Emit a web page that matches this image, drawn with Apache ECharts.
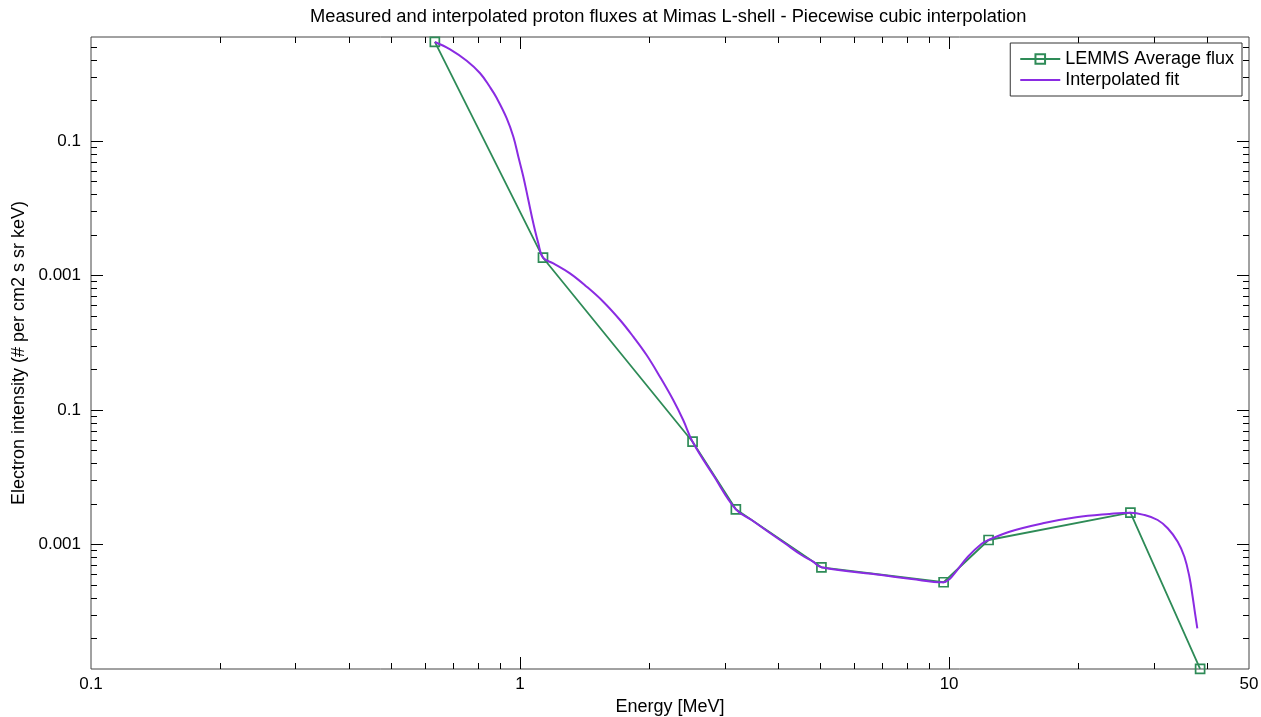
<!DOCTYPE html>
<html>
<head>
<meta charset="utf-8">
<title>Proton fluxes at Mimas L-shell</title>
<script src="https://cdn.jsdelivr.net/npm/echarts@6/dist/echarts.min.js"></script>
<style>
  html, body { margin: 0; padding: 0; background: #fff; }
  #chart { width: 1261px; height: 717px; }
</style>
</head>
<body>
<div id="chart"></div>
<script>
// LEMMS measured average flux
const energyMeasured = [0.633, 1.131, 2.524, 3.184, 5.04, 9.71, 12.36, 26.46, 38.46];
const fluxMeasured = [54.5, 1.356, 0.0581, 0.01827, 0.00677, 0.00524, 0.0108, 0.01723, 0.00119];

// Piecewise cubic fit
const energyFit = [0.633, 0.687, 0.751, 0.807, 0.8515, 0.883, 0.931, 0.9647, 0.9909, 1.0178, 1.0455, 1.0739,
  1.103, 1.131, 1.1955, 1.307, 1.430, 1.563, 1.710, 1.836, 1.972, 2.118, 2.275, 2.400, 2.524, 2.829,
  3.184, 3.464, 3.786, 4.140, 4.528, 4.818, 5.04, 6.953, 8.179, 9.71, 10.03, 10.30, 11.06, 11.89,
  12.36, 13.83, 16.54, 19.78, 23.64, 26.46, 28.52, 30.63, 32.32, 34.10, 35.35, 36.31, 36.95, 37.43, 37.89];
const fluxFit = [54.5, 48.07, 39.5, 31.9, 25.08, 20.78, 14.75, 10.76, 7.64, 5.43, 3.64, 2.444,
  1.736, 1.356, 1.232, 1.038, 0.8255, 0.6385, 0.467, 0.3508, 0.2563, 0.1769, 0.1187, 0.0843, 0.0581, 0.0323,
  0.01827, 0.01521, 0.01245, 0.01021, 0.00835, 0.00745, 0.00677, 0.005932, 0.005539, 0.00524, 0.00554, 0.00611, 0.00811, 0.01009,
  0.0108, 0.01245, 0.01437, 0.01593, 0.01686, 0.01723, 0.01657, 0.01521, 0.0132, 0.0105, 0.00811, 0.00576, 0.00409, 0.00308, 0.002382];

// Axis ranges and ticks
const xRange = [0.1, 50];
const yRange = [0.0011867, 59.33];
const xTickValues = [1, 10];
const xLabelValues = [0.1, 1, 10, 50];
const xTickLabels = ['0.1', '1', '10', '50'];
const xMinorValues = [0.2, 0.3, 0.4, 0.5, 0.6, 0.7, 0.8, 0.9, 2, 3, 4, 5, 6, 7, 8, 9, 20, 30, 40];
const yTickValues = [10, 1, 0.1, 0.01];
const yTickLabels = ['0.1', '0.001', '0.1', '0.001'];
const yMinorValues = [50, 40, 30, 20, 9, 8, 7, 6, 5, 4, 3, 2, 0.9, 0.8, 0.7, 0.6, 0.5, 0.4, 0.3, 0.2,
  0.09, 0.08, 0.07, 0.06, 0.05, 0.04, 0.03, 0.02, 0.009, 0.008, 0.007, 0.006, 0.005, 0.004, 0.003, 0.002];

const FONT = 'Liberation Sans, Arial, sans-serif';
const INK = '#000';
const FRAME = '#444';
const GREEN = '#2e8b57';
const PURPLE = '#8a2be2';

function pickLabel(values, labels) {
  return function (v) {
    let best = 0, bestD = Infinity;
    for (let i = 0; i < values.length; i++) {
      const d = Math.abs(Math.log10(v) - Math.log10(values[i]));
      if (d < bestD) { bestD = d; best = i; }
    }
    return bestD < 0.01 ? labels[best] : '';
  };
}

function logAxis(range, extra) {
  return Object.assign({
    type: 'log',
    logBase: 10,
    min: range[0],
    max: range[1],
    splitLine: { show: false },
    minorTick: { show: false },
    axisLine: { show: false },
    axisLabel: { show: false },
    axisTick: { show: false }
  }, extra);
}

function tickSet(values, length) {
  return {
    show: true,
    inside: true,
    length: length,
    customValues: values,
    lineStyle: { color: INK, width: 1 }
  };
}

const xAxes = [
  logAxis(xRange, {
    position: 'bottom',
    name: 'Energy [MeV]',
    nameLocation: 'middle',
    nameGap: 28,
    nameTextStyle: { fontFamily: FONT, fontSize: 18, color: INK },
    axisTick: tickSet(xTickValues, 12),
    axisLabel: {
      show: true,
      customValues: xLabelValues,
      formatter: pickLabel(xLabelValues, xTickLabels),
      fontFamily: FONT, fontSize: 17, color: INK, margin: 7
    }
  }),
  logAxis(xRange, { position: 'bottom', axisTick: tickSet(xMinorValues, 6) }),
  logAxis(xRange, { position: 'top', axisTick: tickSet(xTickValues, 12) }),
  logAxis(xRange, { position: 'top', axisTick: tickSet(xMinorValues, 6) })
];

const yAxes = [
  logAxis(yRange, {
    position: 'left',
    name: 'Electron intensity (# per cm2 s sr keV)',
    nameLocation: 'middle',
    nameGap: 56,
    nameTextStyle: { fontFamily: FONT, fontSize: 18, color: INK },
    axisTick: tickSet(yTickValues, 12),
    axisLabel: {
      show: true,
      customValues: yTickValues,
      formatter: pickLabel(yTickValues, yTickLabels),
      fontFamily: FONT, fontSize: 17, color: INK, margin: 10
    }
  }),
  logAxis(yRange, { position: 'left', axisTick: tickSet(yMinorValues, 6) }),
  logAxis(yRange, { position: 'right', axisTick: tickSet(yTickValues, 12) }),
  logAxis(yRange, { position: 'right', axisTick: tickSet(yMinorValues, 6) })
];

const measured = energyMeasured.map((e, i) => [e, fluxMeasured[i]]);
const fit = energyFit.map((e, i) => [e, fluxFit[i]]);

const chart = echarts.init(document.getElementById('chart'), null, { renderer: 'canvas' });
chart.setOption({
  animation: false,
  backgroundColor: '#fff',
  textStyle: { fontFamily: FONT },
  title: {
    text: 'Measured and interpolated proton fluxes at Mimas L-shell - Piecewise cubic interpolation',
    left: 310,
    top: 8,
    padding: 0,
    textStyle: { fontFamily: FONT, fontSize: 18.3, fontWeight: 'normal', color: INK }
  },
  grid: {
    left: 91, right: 12, top: 37, bottom: 48,
    outerBoundsMode: 'none',
    containLabel: false,
    show: true,
    borderColor: FRAME,
    borderWidth: 1,
    backgroundColor: '#fff'
  },
  legend: {
    orient: 'vertical',
    right: 19,
    top: 43,
    padding: [7, 8, 7, 9],
    itemGap: 3,
    itemWidth: 40,
    itemHeight: 12,
    backgroundColor: '#fff',
    borderColor: '#333',
    borderWidth: 1,
    borderRadius: 0,
    textStyle: { fontFamily: FONT, fontSize: 18, color: INK },
    data: [
      { name: 'LEMMS Average flux' },
      { name: 'Interpolated fit', itemStyle: { opacity: 0 } }
    ]
  },
  xAxis: xAxes,
  yAxis: yAxes,
  series: [
    {
      name: 'LEMMS Average flux',
      type: 'line',
      xAxisIndex: 0,
      yAxisIndex: 0,
      data: measured,
      clip: false,
      symbol: 'rect',
      symbolSize: 9,
      showAllSymbol: true,
      lineStyle: { color: GREEN, width: 1.8 },
      itemStyle: { color: 'rgba(255,255,255,0)', borderColor: GREEN, borderWidth: 1.7 },
      z: 2
    },
    {
      name: 'Interpolated fit',
      type: 'line',
      xAxisIndex: 0,
      yAxisIndex: 0,
      data: fit,
      smooth: 0.4,
      showSymbol: false,
      symbol: 'none',
      lineStyle: { color: PURPLE, width: 2 },
      itemStyle: { color: PURPLE },
      z: 3
    }
  ]
});
</script>
</body>
</html>
